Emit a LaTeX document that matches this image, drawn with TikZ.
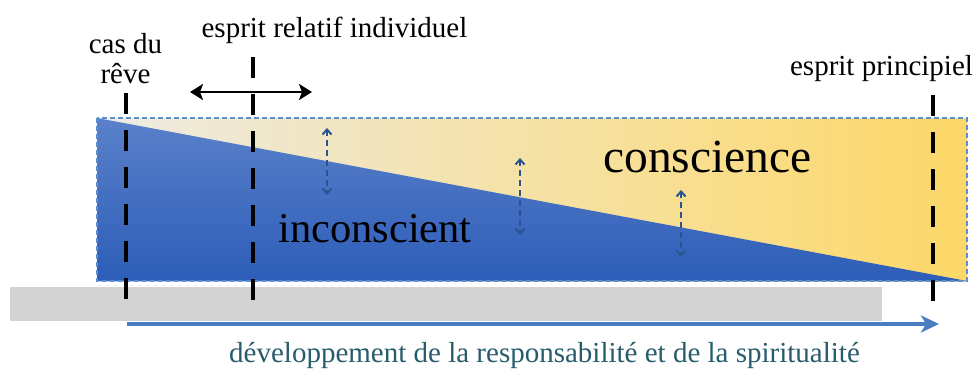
\documentclass[tikz,border=0pt]{standalone}
\usepackage{fontspec}
\setmainfont{Liberation Serif}
\usetikzlibrary{arrows.meta}
\definecolor{graybar}{RGB}{211,211,211}
\definecolor{beigeL}{RGB}{237,235,228}
\definecolor{beigeM}{RGB}{244,229,180}
\definecolor{yellowR}{RGB}{253,216,104}
\definecolor{blueT}{RGB}{90,129,202}
\definecolor{blueB}{RGB}{45,93,184}
\definecolor{borderblue}{RGB}{91,143,209}
\definecolor{smallarrow}{RGB}{40,85,145}
\definecolor{devarrow}{RGB}{74,126,193}
\definecolor{devtext}{RGB}{38,92,108}
\tikzset{
  lbl/.style={font=\fontsize{29}{34}\selectfont, inner sep=0pt, anchor=base},
  bigA/.style={font=\fontsize{47.5}{54}\selectfont, inner sep=0pt, anchor=base},
  bigB/.style={font=\fontsize{42.5}{48}\selectfont, inner sep=0pt, anchor=base},
  blackdash/.style={line width=4.5pt, dash pattern=on 21pt off 16pt},
  smalldash/.style={smallarrow, line width=2pt, dash pattern=on 6pt off 4pt,
    {Straight Barb[length=5pt,width=9pt]}-{Straight Barb[length=5pt,width=9pt]}},
  rectborder/.style={borderblue, line width=1.3pt, dash pattern=on 5pt off 3pt},
}
\begin{document}
\begin{tikzpicture}[x=1pt,y=-1pt]
\useasboundingbox (0,0) rectangle (978,370);
% gray bar
\fill[graybar] (10,287) rectangle (882,321);
% background gradient
\shade[left color=beigeL, middle color=beigeM, right color=yellowR] (97,118) rectangle (967,281);
% blue wedge
\shade[top color=blueT, bottom color=blueB] (97,118) -- (967,281) -- (97,281) -- cycle;
\draw[rectborder] (97,118) rectangle (967,281);
% texts
\node[lbl] (cas) at (125.5,53) {cas du};
\node[lbl] (reve) at (125.5,83) {rêve};
\node[lbl] (relatif) at (334.5,37) {esprit relatif individuel};
\node[lbl] (principiel) at (881.5,75) {esprit principiel};
\node[bigA] (conscience) at (707.5,172) {conscience};
\node[bigB] (inconscient) at (375,242) {inconscient};
\node[lbl, text=devtext] (dev) at (544.5,362) {développement de la responsabilité et de la spiritualité};
% coordinates
\coordinate (d1a) at (126,93);  \coordinate (d1b) at (126,300);
\coordinate (d2a) at (253,57);  \coordinate (d2b) at (253,300);
\coordinate (d3a) at (933,95);  \coordinate (d3b) at (933,302);
\coordinate (hL) at (190,92);   \coordinate (hR) at (312,92);
\coordinate (s1a) at (327,128); \coordinate (s1b) at (327,195);
\coordinate (s2a) at (520,158); \coordinate (s2b) at (520,235);
\coordinate (s3a) at (681,190); \coordinate (s3b) at (681,257);
\coordinate (ga) at (127,324);  \coordinate (gb) at (939,324);
% small dashed double arrows
\draw[smalldash] (s1a) -- (s1b);
\draw[smalldash] (s2a) -- (s2b);
\draw[smalldash] (s3a) -- (s3b);
% development arrow
\draw[devarrow, line width=4.5pt, -{Stealth[length=18pt,width=17pt,inset=5pt]}] (ga) -- (gb);
% black dashed lines
\draw[blackdash] (d1a) -- (d1b);
\draw[blackdash] (d2a) -- (d2b);
\draw[blackdash] (d3a) -- (d3b);
% horizontal double arrow
\draw[line width=2.5pt, {Stealth[length=13pt,width=16pt,inset=3pt]}-{Stealth[length=13pt,width=16pt,inset=3pt]}] (hL) -- (hR);
\end{tikzpicture}
\end{document}
